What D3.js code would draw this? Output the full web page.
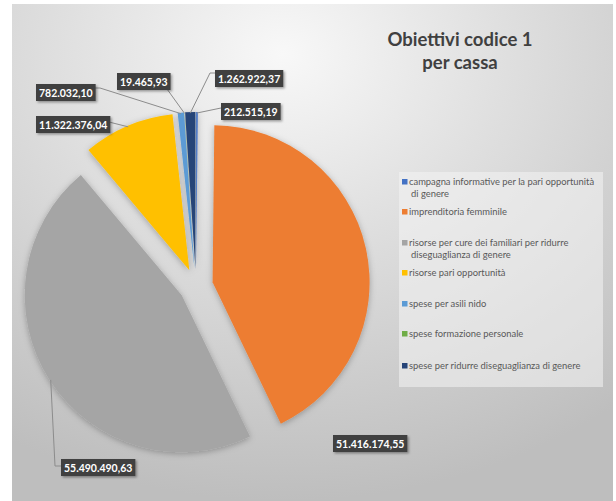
<!DOCTYPE html>
<html><head><meta charset="utf-8">
<script src="https://cdn.jsdelivr.net/npm/d3@7"></script>
<style>html,body{margin:0;padding:0;background:#fff;}svg{display:block;}</style>
</head><body>
<svg id="chart" width="616" height="501"></svg>
<script>
// ---- data ----
const categories = [
  "campagna informative per la pari opportunità di genere",
  "imprenditoria femminile",
  "risorse per cure dei familiari per ridurre diseguaglianza di genere",
  "risorse pari opportunità",
  "spese per asili nido",
  "spese formazione personale",
  "spese per ridurre diseguaglianza di genere"
];
const legendLines = [
  ["campagna informative per la pari opportunità", "di genere"],
  ["imprenditoria femminile"],
  ["risorse per cure dei familiari per ridurre", "diseguaglianza di genere"],
  ["risorse pari opportunità"],
  ["spese per asili nido"],
  ["spese formazione personale"],
  ["spese per ridurre diseguaglianza di genere"]
];
const values = [212515.19, 51416174.55, 55490490.63, 11322376.04, 782032.10, 19465.93, 1262922.37];
const colors = ["#4472C4", "#ED7D31", "#A5A5A5", "#FFC000", "#5B9BD5", "#70AD47", "#264478"];
const titleLines = ["Obiettivi codice 1", "per cassa"];

// ---- layout ----
const cx = 196, cy = 286, R = 157, explode = 17;
const labelLayout = [
  {x: 221, y: 103, leader: [[221, 108]]},
  {x: 333, y: 435, leader: null},
  {x: 61, y: 459, leader: [[61, 466], [55, 466]]},
  {x: 36, y: 116, leader: [[109, 122]]},
  {x: 36, y: 84, leader: [[94, 88], [100, 88]]},
  {x: 117, y: 73, leader: [[167, 89]]},
  {x: 215, y: 70, leader: [[215, 73], [210, 73]]}
];
const legendY = [182, 212, 243, 273, 304, 334, 366];

const it = d3.formatLocale({decimal: ",", thousands: ".", grouping: [3], currency: ["€", ""]});
const fmt = it.format(",.2f");

const svg = d3.select("#chart");
const defs = svg.append("defs");
const grad = defs.append("radialGradient").attr("id", "bg")
  .attr("cx", "45%").attr("cy", "10%").attr("r", "90%");
grad.append("stop").attr("offset", 0).attr("stop-color", "#f8f8f8");
grad.append("stop").attr("offset", 0.4).attr("stop-color", "#e0e0e0");
grad.append("stop").attr("offset", 1).attr("stop-color", "#bebebe");

const sh = defs.append("filter").attr("id", "sh").attr("x", "-20%").attr("y", "-20%").attr("width", "140%").attr("height", "140%");
sh.append("feDropShadow").attr("dx", 0).attr("dy", 1.5).attr("stdDeviation", 3)
  .attr("flood-color", "#000").attr("flood-opacity", 0.28);
const sh2 = defs.append("filter").attr("id", "sh2").attr("x", "-20%").attr("y", "-30%").attr("width", "140%").attr("height", "160%");
sh2.append("feDropShadow").attr("dx", 1.5).attr("dy", 1.5).attr("stdDeviation", 1.2)
  .attr("flood-color", "#000").attr("flood-opacity", 0.35);

svg.append("rect").attr("x", 12).attr("y", 4).attr("width", 601).attr("height", 497)
  .attr("fill", "url(#bg)");

// title
svg.append("text").attr("text-anchor", "middle")
  .attr("font-family", "Lato, 'Open Sans', sans-serif").attr("font-weight", 700)
  .attr("font-size", 18.5).attr("fill", "#404040")
  .selectAll("tspan").data(titleLines).join("tspan")
  .attr("x", 460).attr("y", (d, i) => 46 + i * 22.5).text(d => d);

// pie
const pie = d3.pie().sort(null).value(d => d).startAngle(0).endAngle(2 * Math.PI);
const arcs = pie(values);
const arc = d3.arc().innerRadius(0).outerRadius(R);
const mid = a => (a.startAngle + a.endAngle) / 2;
const off = (a, r) => [cx + r * Math.sin(mid(a)), cy - r * Math.cos(mid(a))];

const gPie = svg.append("g").attr("filter", "url(#sh)");
gPie.selectAll("path").data(arcs).join("path")
  .attr("transform", d => { const p = off(d, explode); return `translate(${p[0]},${p[1]})`; })
  .attr("d", arc)
  .attr("fill", (d, i) => colors[i]);

// leaders
const line = d3.line();
arcs.forEach((a, i) => {
  const L = labelLayout[i];
  if (!L.leader) return;
  const pts = L.leader.concat([off(a, R + explode - 1)]);
  svg.append("path").attr("d", line(pts)).attr("fill", "none")
    .attr("stroke", "#8c8c8c").attr("stroke-width", 1);
});

// labels
const gLab = svg.append("g");
arcs.forEach((a, i) => {
  const L = labelLayout[i];
  const g = gLab.append("g").attr("transform", `translate(${L.x},${L.y})`);
  const r = g.append("rect").attr("fill", "#404040").attr("filter", "url(#sh2)");
  const t = g.append("text").attr("x", 3).attr("y", 12.5)
    .attr("font-family", "Lato, 'Open Sans', sans-serif").attr("font-weight", 700)
    .attr("font-size", 10.5).attr("fill", "#ffffff").text(fmt(values[i]));
  const w = t.node().getComputedTextLength();
  r.attr("width", w + 6).attr("height", 17);
});

// legend
svg.append("rect").attr("x", 399).attr("y", 172).attr("width", 204).attr("height", 215)
  .attr("fill", "#f4f4f4").attr("opacity", 0.55);
const gLeg = svg.append("g");
categories.forEach((c, i) => {
  const y = legendY[i];
  gLeg.append("rect").attr("x", 402).attr("y", y - 3).attr("width", 5.5).attr("height", 5.5).attr("fill", colors[i]);
  const t = gLeg.append("text").attr("font-family", "Lato, 'Open Sans', sans-serif")
    .attr("font-size", 9.4).attr("fill", "#595959");
  legendLines[i].forEach((ln, j) => {
    t.append("tspan").attr("x", j === 0 ? 409 : 411).attr("y", y + 3 + j * 12).text(ln);
  });
});
</script>
</body></html>
